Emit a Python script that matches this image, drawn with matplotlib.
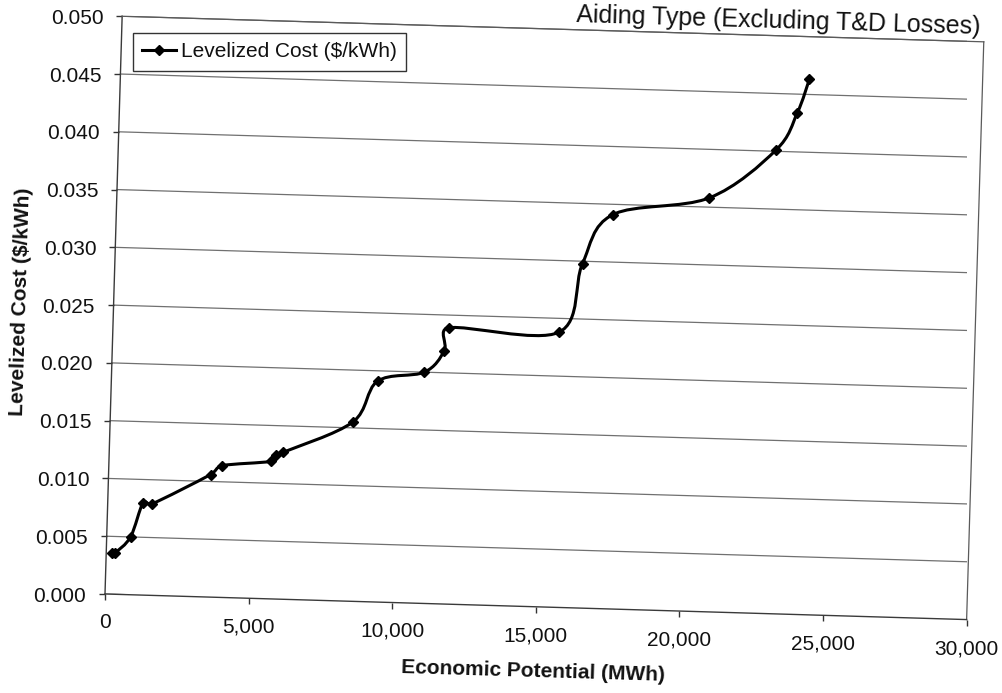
import numpy as np
import matplotlib
matplotlib.use("Agg")
import matplotlib.pyplot as plt
from matplotlib.axes import Axes
from matplotlib.transforms import Affine2D
from matplotlib.path import Path
from matplotlib.patches import PathPatch
from matplotlib.lines import Line2D
from matplotlib.ticker import FixedLocator, FuncFormatter

# Supply curve: cumulative economic potential vs levelized cost
potential_mwh = [190, 310, 830, 1230, 1530, 3550, 3950, 5640, 5820, 6040, 8440,
                 9260, 10880, 11550, 11680, 15520, 16270, 17270, 20610, 22880,
                 23590, 23970]
cost_per_kwh = [0.0036, 0.0036, 0.0050, 0.0080, 0.0079, 0.0106, 0.0114, 0.0119,
                0.0125, 0.0127, 0.0155, 0.0191, 0.0200, 0.0219, 0.0239, 0.0238,
                0.0298, 0.0341, 0.0358, 0.0401, 0.0434, 0.0463]

x_ticks = [0, 5000, 10000, 15000, 20000, 25000, 30000]
y_ticks = [0.000, 0.005, 0.010, 0.015, 0.020, 0.025, 0.030, 0.035, 0.040, 0.045, 0.050]

series_label = "Levelized Cost ($/kWh)"
x_label = "Economic Potential (MWh)"
y_label = "Levelized Cost ($/kWh)"
title_text = "Aiding Type (Excluding T&D Losses)"

# figure geometry in pixels (dpi 100)
FIG_W, FIG_H, DPI = 1003, 693, 100
AX_X0, AX_Y0, AX_W, AX_H = 105, 99, 862, 578
TILT = -1.7  # the printed page sits slightly askew


class TiltedAxes(Axes):
    """Axes whose data, grid, spines and ticks are turned about the lower-left corner."""

    def _set_lim_and_transforms(self):
        super()._set_lim_and_transforms()
        self.turn = Affine2D().rotate_deg_around(AX_X0, AX_Y0, TILT)
        self.transData = self.transData + self.turn
        self._xaxis_transform = self._xaxis_transform + self.turn
        self._yaxis_transform = self._yaxis_transform + self.turn

    def clear(self):
        super().clear()
        self.patch.set_transform(self.transAxes + self.turn)


plt.rcParams['font.family'] = ['Liberation Sans', 'DejaVu Sans']
plt.rcParams['text.color'] = '#111111'

fig = plt.figure(figsize=(FIG_W / DPI, FIG_H / DPI), dpi=DPI)
ax = fig.add_axes([AX_X0 / FIG_W, AX_Y0 / FIG_H, AX_W / FIG_W, AX_H / FIG_H],
                  axes_class=TiltedAxes)

ax.set_xlim(x_ticks[0], x_ticks[-1])
ax.set_ylim(y_ticks[0], y_ticks[-1])
ax.xaxis.set_major_locator(FixedLocator(x_ticks))
ax.yaxis.set_major_locator(FixedLocator(y_ticks))
ax.xaxis.set_major_formatter(FuncFormatter(lambda v, _: f"{v:,.0f}"))
ax.yaxis.set_major_formatter(FuncFormatter(lambda v, _: f"{v:.3f}"))
ax.tick_params(axis='both', direction='out', length=4, width=1, colors='#333333',
               labelcolor='#111111', labelsize=15)
ax.tick_params(axis='x', pad=10)
ax.tick_params(axis='y', pad=9.5)

ax.set_axisbelow(True)
ax.yaxis.grid(True, color='#707070', linewidth=0.9)
for side in ['left', 'bottom']:
    ax.spines[side].set_color('#3a3a3a')
    ax.spines[side].set_linewidth(1.0)
for side in ['top', 'right']:
    ax.spines[side].set_color('#5a5a5a')
    ax.spines[side].set_linewidth(0.9)

# smoothed line through the points: cubic Bezier segments with
# Catmull-Rom handles, each handle kept within half of its segment
pts = np.column_stack([potential_mwh, cost_per_kwh]).astype(float)
px_per_unit = np.array([AX_W / (x_ticks[-1] - x_ticks[0]),
                        AX_H / (y_ticks[-1] - y_ticks[0])])


def capped(vec, chord):
    n = np.hypot(*(vec * px_per_unit))
    lim = 0.5 * np.hypot(*(chord * px_per_unit))
    return vec * (lim / n) if n > lim else vec


ext = np.vstack([pts[:1], pts, pts[-1:]])
verts = [pts[0]]
codes = [Path.MOVETO]
for i in range(len(pts) - 1):
    p0, p1, p2, p3 = ext[i], ext[i + 1], ext[i + 2], ext[i + 3]
    chord = p2 - p1
    verts += [p1 + capped((p2 - p0) / 6, chord), p2 - capped((p3 - p1) / 6, chord), p2]
    codes += [Path.CURVE4] * 3
curve = PathPatch(Path(verts, codes), facecolor='none', edgecolor='black',
                  linewidth=2.2, capstyle='round', joinstyle='round', clip_on=False)
ax.add_patch(curve)
ax.plot(potential_mwh, cost_per_kwh, linestyle='none', marker='D', markersize=5.5,
        color='black', clip_on=False)
ax.set_xlim(x_ticks[0], x_ticks[-1])
ax.set_ylim(y_ticks[0], y_ticks[-1])

handle = Line2D([], [], color='black', linewidth=2.2, marker='D', markersize=5.5)
ax.legend([handle], [series_label], loc='upper left',
          bbox_to_anchor=(133 / FIG_W, 1 - 33 / FIG_H), bbox_transform=fig.transFigure,
          borderaxespad=0, fontsize=15, frameon=True, fancybox=False, framealpha=1,
          edgecolor='#333333', handlelength=1.6, handletextpad=0.25, borderpad=0.45)
ax.get_legend().get_frame().set_linewidth(1.0)

fig.text(533 / FIG_W, 1 - 671 / FIG_H, x_label, fontsize=15, fontweight='bold',
         ha='center', va='center', rotation=TILT, rotation_mode='anchor')
fig.text(21 / FIG_W, 1 - 302 / FIG_H, y_label, fontsize=15, fontweight='bold',
         ha='center', va='center', rotation=90 + TILT, rotation_mode='anchor')
fig.text(576 / FIG_W, 1 - 22 / FIG_H, title_text, fontsize=18,
         ha='left', va='baseline', rotation=TILT, rotation_mode='anchor')

fig.savefig("out.png", dpi=DPI, facecolor='white')
